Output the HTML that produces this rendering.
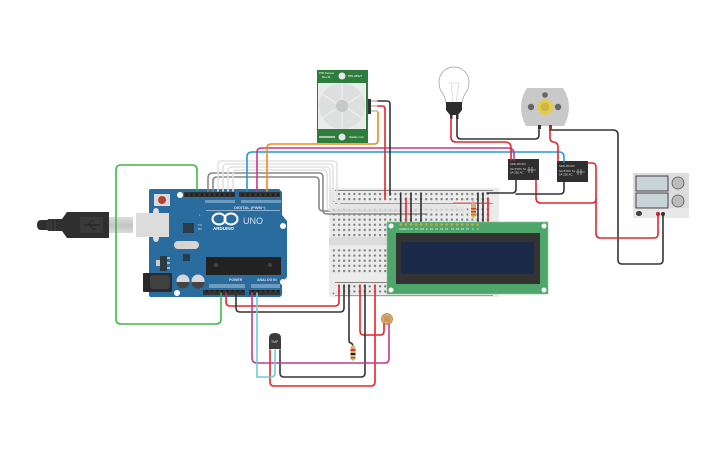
<!DOCTYPE html>
<html>
<head>
<meta charset="utf-8">
<style>
html,body{margin:0;padding:0;background:#fff;width:725px;height:453px;overflow:hidden}
svg{display:block}
text{font-family:"Liberation Sans",sans-serif}
.w{fill:none;stroke-width:1.6;stroke-linecap:round}
.k{stroke:#333}.r{stroke:#e0262b}.g{stroke:#43b649}.o{stroke:#ee8a1c}.m{stroke:#c4398e}.b{stroke:#1f9ad6}.c{stroke:#6ccbdb}.gy{stroke:#888}.wh{stroke:#e2e2e2}
</style>
</head>
<body>
<svg width="725" height="453" viewBox="0 0 725 453" xmlns="http://www.w3.org/2000/svg">
<defs>
<pattern id="h" x="336.500" y="191.500" width="5.13" height="5.13" patternUnits="userSpaceOnUse"><rect x="1.500" y="1.500" width="2" height="2" fill="#777"/></pattern>
<pattern id="pins" x="184" y="192" width="5.1" height="6" patternUnits="userSpaceOnUse"><rect width="5.1" height="6" fill="#333"/><rect x="1.5" y="1.5" width="2" height="2.5" fill="#1c1c1c"/></pattern>
<linearGradient id="cable" x1="0" y1="0" x2="0" y2="1"><stop offset="0" stop-color="#dcdcdc"/><stop offset=".5" stop-color="#c4c4c4"/><stop offset="1" stop-color="#dcdcdc"/></linearGradient>
</defs>

<!-- USB cable -->
<rect x="109" y="217" width="24" height="16" fill="url(#cable)"/>
<path d="M48 220 H41 Q37 220 37 225 Q37 230 41 230 H48 V219 H62 L67 212 H109 V238 H67 L62 231 H48Z" fill="#2f2f2f"/>
<path d="M48 219 V231 M51 219 V231 M55 219 V231" stroke="#555" stroke-width=".6"/>
<rect x="80" y="217" width="23" height="16" fill="#3a3a3a"/>
<path d="M84 225 H100 M88 225 L91 221 H94 M90 225 L93 229 H96" stroke="#222" stroke-width="1" fill="none"/>

<!-- Arduino -->
<path d="M149 191 Q149 189 151 189 H279 L282 192 V215 L287 221 V277 L282 283 V295 L280 297 H151 Q149 297 149 295Z" fill="#2b6c9e"/>
<ellipse cx="156" cy="212" rx="3" ry="4" fill="#ddd"/>
<ellipse cx="156" cy="238" rx="3" ry="4" fill="#ddd"/>
<rect x="136" y="213" width="33" height="24" fill="#dcdcdc"/>
<rect x="184" y="192" width="51" height="5" fill="url(#pins)"/>
<rect x="239" y="192" width="41" height="5" fill="url(#pins)"/>
<rect x="203" y="290" width="42" height="5" fill="url(#pins)"/>
<rect x="249" y="290" width="31" height="5" fill="url(#pins)"/>
<rect x="154" y="194" width="16" height="12" fill="#d9d9d9"/>
<circle cx="162" cy="200" r="4" fill="#b5442c"/>
<circle cx="180" cy="195" r="3" fill="#fff"/>
<circle cx="283" cy="226" r="3" fill="#fff"/>
<circle cx="283" cy="282" r="3" fill="#fff"/>
<circle cx="177" cy="293" r="3" fill="#fff"/>
<rect x="183" y="223" width="11" height="10" fill="#2b3b48"/>
<rect x="174" y="241" width="25" height="8" rx="4" fill="#d9d4d0"/>
<rect x="183" y="254" width="7" height="7" fill="#2b3b48"/>
<rect x="156" y="260" width="4" height="6" fill="#ccc"/>
<rect x="160" y="256" width="7" height="15" fill="#2c3a44"/>
<path d="M167 258 H170 M167 263 H170 M167 268 H170" stroke="#ccc" stroke-width="1.500"/>
<rect x="143" y="273" width="29" height="19" rx="1" fill="#2a2a2a"/>
<rect x="150" y="275" width="20" height="14" rx="3" fill="#404040"/>
<circle cx="183" cy="281" r="6.5" fill="#d4d8da"/>
<path d="M176.5 282 a6.500 6.500 0 0 0 13 0z" fill="#444"/>
<circle cx="198" cy="281" r="6.5" fill="#d4d8da"/>
<path d="M191.500 282 a6.500 6.500 0 0 0 13 0z" fill="#444"/>
<rect x="206" y="257" width="75" height="18" fill="#222"/>
<circle cx="216" cy="265" r="2" fill="#444"/>
<circle cx="270" cy="265" r="2" fill="#444"/>
<rect x="206" y="210" width="74" height="0.7" fill="#bcd"/>
<ellipse cx="219" cy="219" rx="6.500" ry="5.500" fill="none" stroke="#fff" stroke-width="2"/>
<ellipse cx="231" cy="219" rx="6.500" ry="5.500" fill="none" stroke="#fff" stroke-width="2"/>
<text x="213" y="230" font-size="4.500" font-weight="bold" fill="#fff">ARDUINO</text>
<text x="243" y="224" font-size="9" fill="#cfe0ec">UNO</text>
<text x="234" y="209" font-size="4" font-weight="bold" fill="#dde">DIGITAL (PWM~)</text>
<text x="229" y="281" font-size="3.500" font-weight="bold" fill="#dde">POWER</text>
<text x="257" y="281" font-size="3.500" font-weight="bold" fill="#dde">ANALOG IN</text>
<text x="199" y="216" font-size="3" fill="#dde">L</text>
<text x="198" y="226" font-size="3" fill="#dde">TX</text>
<text x="198" y="230" font-size="3" fill="#dde">RX</text>
<rect x="205" y="200" width="30" height="3" fill="#a8c4d9" opacity=".55"/>
<rect x="241" y="200" width="40" height="3" fill="#a8c4d9" opacity=".55"/>
<rect x="209" y="284" width="36" height="4" fill="#a8c4d9" opacity=".55"/>
<rect x="251" y="284" width="29" height="4" fill="#a8c4d9" opacity=".55"/>

<!-- Breadboard -->
<rect x="329" y="188" width="170" height="109" fill="#ebebeb"/>
<rect x="329" y="237" width="170" height="8" fill="#dcdcdc"/>
<rect x="336.500" y="191.500" width="155" height="10.200" fill="url(#h)"/>
<rect x="331.400" y="207" width="160" height="30" fill="url(#h)"/>
<rect x="331.400" y="248" width="160" height="26" fill="url(#h)"/>
<rect x="336.500" y="284" width="155" height="10.200" fill="url(#h)"/>
<rect x="335" y="190" width="158" height="0.8" fill="#666"/>
<rect x="335" y="203" width="158" height="0.8" fill="#d66"/>
<rect x="335" y="282" width="158" height="0.8" fill="#666"/>
<rect x="335" y="295" width="158" height="0.8" fill="#d66"/>
<text x="332" y="203" font-size="5" fill="#c33">+</text>
<text x="332" y="295" font-size="5" fill="#c33">+</text>

<!-- Grey and white wires -->
<g class="w gy">
<path d="M208 191 V178 Q208 173 213 173 H319 Q323 173 323 177 V210 Q323 214 327 214 H427"/>
<path d="M213 191 V181 Q213 177 217 177 H315 Q319 177 319 181 V207 Q319 211 323 211 H417"/>
</g>
<g class="w wh">
<path d="M218 191 V165 Q218 161 222 161 H333 Q337 161 337 165 V198 Q337 205 343 205 H450 Q456 205 460 209 V214"/>
<path d="M223 191 V168 Q223 164 227 164 H329 Q333 164 333 168 V202 Q333 207 339 207 H463 V214"/>
<path d="M228 191 V171 Q228 167 232 167 H326 Q330 167 330 171 V204 Q330 209 336 209 H466 V216"/>
<path d="M233 191 V174 Q233 170 237 170 H323 Q327 170 327 174 V206 Q327 211 333 211 H469 V216"/>
</g>

<!-- PIR -->
<rect x="317" y="70" width="51" height="73" fill="#2f7d3c"/>
<rect x="318" y="83" width="48" height="46" fill="#e8ecea"/>
<circle cx="342" cy="106" r="23" fill="#dde0de"/>
<circle cx="342" cy="106" r="6" fill="#c6c9c7"/>
<path d="M342 83 V100 M322 94 L336 103 M322 118 L336 109 M342 129 V112 M362 94 L348 103 M362 118 L348 109" stroke="#f1f2f1" stroke-width="1"/>
<circle cx="342" cy="76" r="3.500" fill="#e6e6e6"/>
<circle cx="342" cy="137" r="3.500" fill="#e6e6e6"/>
<text x="319" y="74" font-size="3" fill="#fff">PIR Sensor</text>
<text x="322" y="78" font-size="3" fill="#fff">Rev B</text>
<text x="348" y="77" font-size="3" fill="#fff">555-28027</text>
<text x="349" y="138" font-size="3" fill="#fff">dtallax.com</text>
<rect x="319" y="136" width="16" height="2" fill="#d8e4d8" opacity=".7"/>
<rect x="368" y="99" width="3" height="15" fill="#333"/>
<path d="M371 101 H378 M371 106 H378 M371 111 H378" stroke="#bbb" stroke-width="1.500"/>

<!-- Bulb -->
<path d="M446 103 Q445 96 441 91 Q439 87 439 82 A15 15 0 0 1 469 82 Q469 87 467 91 Q463 96 462 103Z" fill="#fff" stroke="#999" stroke-width=".7"/>
<path d="M448 83 H459 L456 102 M451 84 L453 102" stroke="#ccc" stroke-width=".6" fill="none"/>
<path d="M446 102 H462 V110 L458 115 H450 L446 110Z" fill="#2d2d2d"/>
<rect x="450" y="115" width="2.500" height="4" fill="#333"/>
<rect x="456" y="115" width="2.500" height="4" fill="#333"/>

<!-- Motor -->
<path d="M527 88 H563 Q569 97 569 107 Q569 117 564 126 H526 Q521 117 521 107 Q521 97 527 88Z" fill="#c9c9c9"/>
<circle cx="545" cy="95" r="2.800" fill="#666"/>
<circle cx="531" cy="107" r="3.200" fill="#666"/>
<circle cx="558" cy="107" r="3.200" fill="#666"/>
<circle cx="545" cy="107" r="5.500" fill="#c9b64e" stroke="#ecc93c" stroke-width="2.500"/>
<circle cx="545" cy="107" r="7.500" fill="none" stroke="#ecc93c" stroke-width="1.600" stroke-dasharray="2 2"/>
<rect x="538" y="125" width="3" height="4" fill="#333"/>
<rect x="549" y="125" width="3" height="4" fill="#b22"/>

<!-- Relays -->
<rect x="508" y="159" width="31" height="21" fill="#2f2f2f"/>
<rect x="557" y="161" width="31" height="21" fill="#2f2f2f"/>
<g fill="#ddd" font-size="2.800">
<text x="510" y="165">SRD-05VDC</text><text x="510" y="170">SA-5VDC SL</text><text x="510" y="173.500">5A-250 AC</text>
<text x="559" y="167">SRD-05VDC</text><text x="559" y="172">SA-5VDC SL</text><text x="559" y="175.500">5A-250 AC</text>
</g>
<path d="M527 170 H536 M529 167 V173 M532 167 V173" stroke="#ddd" stroke-width=".6"/>
<path d="M576 172 H585 M578 169 V175 M581 169 V175" stroke="#ddd" stroke-width=".6"/>

<!-- Power supply -->
<rect x="633" y="173" width="56" height="45" fill="#dcdcdc"/>
<rect x="633" y="208" width="56" height="10" fill="#e8e8e8"/>
<rect x="636" y="176" width="32" height="15" fill="#c9d4d8" stroke="#444" stroke-width="1"/>
<rect x="636" y="193" width="32" height="15" fill="#c9d4d8" stroke="#444" stroke-width="1"/>
<circle cx="678" cy="183" r="6" fill="#bbb" stroke="#555" stroke-width=".8"/>
<circle cx="678" cy="201" r="6" fill="#bbb" stroke="#555" stroke-width=".8"/>
<rect x="636" y="211" width="6" height="5" rx="2.500" fill="#444"/>
<circle cx="658" cy="214" r="2" fill="#b22"/>
<circle cx="663" cy="214" r="2" fill="#333"/>

<!-- Temperature sensor -->
<path d="M269 338 Q269 333 275 333 Q281 333 281 338 V349 H269Z" fill="#3a3a3a"/>
<text x="271" y="343" font-size="3.500" fill="#ddd">TMP</text>

<!-- LDR -->
<circle cx="387" cy="319" r="5.500" fill="#d9a86a" stroke="#b98546" stroke-width=".8"/>
<path d="M384 317 H390 M384 319 H390 M384 321 H390" stroke="#a0662e" stroke-width=".5"/>

<!-- Wires -->
<path class="w g" d="M197 190 V170 Q197 165 192 165 H121 Q116 165 116 170 V319 Q116 324 121 324 H216 Q221 324 221 319 V293"/>
<path class="w b" d="M247 191 V157 Q247 152 252 152 H559 Q564 152 564 157 V162"/>
<path class="w m" d="M257 191 V152 Q257 148 262 148 H508 Q514 148 514 154 V160"/>
<path class="w o" d="M267 191 V148 Q267 144 271 144 H374 Q378 144 378 140 V112"/>
<path class="w k" d="M378 101 H387 Q390 101 390 104 V195"/>
<path class="w r" d="M378 106 H382 Q385 106 385 109 V198"/>
<path class="w r" d="M451 118 V137 Q451 142 456 142 H505 Q511 142 511 148 V160"/>
<path class="w k" d="M457 118 V135 Q457 139 461 139 H535 Q539 139 539 135 V128"/>
<path class="w r" d="M550 128 V138 Q550 142 554 142 Q558 143 558 147 V161"/>
<path class="w k" d="M550 130 H613 Q618 130 618 135 V260 Q618 264 622 264 H659 Q663 264 663 260 V214"/>
<path class="w r" d="M588 163 H592 Q596 163 596 167 V233 Q596 238 600 238 H654 Q658 238 658 234 V214"/>
<path class="w r" d="M536 180 V198 Q536 203 541 203 H592 Q596 203 596 199"/>
<path class="w k" d="M516 180 V189 Q516 193 512 193 H487"/>
<path class="w k" d="M564 182 V190 Q564 194 560 194 H516"/>
<path class="w k" d="M400.700 193 V224 M411 193 V224 M421 193 V224 M478 193 V224 M483 193 V224"/>
<path class="w r" d="M406 198 V224 M488 198 V224"/>
<path d="M453 203 H490" stroke="#d33" stroke-width=".8"/>
<!-- resistor 1 -->
<path d="M473 199 V221" stroke="#aaa" stroke-width="1"/>
<rect x="471" y="203" width="5" height="14" rx="2" fill="#d8b070"/>
<rect x="471" y="208" width="5" height="1.500" fill="#d33"/>
<rect x="471" y="211" width="5" height="1.500" fill="#d33"/>
<rect x="471" y="214" width="5" height="1.500" fill="#c80"/>

<!-- Bottom wires -->
<path class="w r" d="M226 293 V302 Q226 306 230 306 H335 Q339 306 339 302 V285"/>
<path class="w k" d="M236 293 V308 Q236 312 240 312 H340 Q344 312 344 308 V285"/>
<path class="w k" d="M349 285 V340 Q349 343 351 343 Q353 344 353 347"/>
<path class="w r" d="M360 285 V331 Q360 335 364 335 H380 Q384 335 384 331 V324"/>
<path class="w k" d="M365 285 V373 Q365 377 361 377 H284 Q280 377 280 373 V350"/>
<path class="w r" d="M375 285 V382 Q375 386 371 386 H274 Q270 386 270 382 V350"/>
<path class="w m" d="M252 293 V358 Q252 363 257 363 H385 Q389 363 389 358 V324"/>
<path class="w c" d="M257 293 V377 H271 Q275 377 275 373 V350"/>
<path d="M353 345 V363" stroke="#bbb" stroke-width="1"/>
<rect x="350.500" y="346" width="5" height="14" rx="2" fill="#d8b070"/>
<rect x="350.500" y="349" width="5" height="2" fill="#d33"/>
<rect x="350.500" y="353" width="5" height="2" fill="#222"/>
<rect x="350.500" y="357" width="5" height="1.500" fill="#a60"/>

<!-- LCD -->
<rect x="387" y="222" width="161" height="72" fill="#4fa66b" stroke="#8cc49d" stroke-width=".6"/>
<rect x="396" y="233" width="144" height="51" fill="#333"/>
<rect x="401" y="242" width="133" height="32" fill="#1b2a49"/>
<circle cx="391" cy="226" r="2.500" fill="#fff"/>
<circle cx="544" cy="226" r="2.500" fill="#fff"/>
<circle cx="391" cy="290" r="2.500" fill="#fff"/>
<circle cx="544" cy="290" r="2.500" fill="#fff"/>
<g fill="#c9a44a">
<circle cx="400.700" cy="224.500" r="1.400"/><circle cx="405.800" cy="224.500" r="1.400"/><circle cx="411" cy="224.500" r="1.400"/><circle cx="416.100" cy="224.500" r="1.400"/><circle cx="421.200" cy="224.500" r="1.400"/><circle cx="426.300" cy="224.500" r="1.400"/><circle cx="431.500" cy="224.500" r="1.400"/><circle cx="436.600" cy="224.500" r="1.400"/><circle cx="441.700" cy="224.500" r="1.400"/><circle cx="446.800" cy="224.500" r="1.400"/><circle cx="452" cy="224.500" r="1.400"/><circle cx="457.100" cy="224.500" r="1.400"/><circle cx="462.200" cy="224.500" r="1.400"/><circle cx="467.300" cy="224.500" r="1.400"/><circle cx="472.500" cy="224.500" r="1.400"/><circle cx="477.600" cy="224.500" r="1.400"/>
</g>
<g fill="#e8f2ea" font-size="2.500">
<text x="399" y="230">GND</text><text x="404" y="230">VCC</text><text x="410" y="230">V0</text><text x="415" y="230">RS</text><text x="420" y="230">RW</text><text x="426" y="230">E</text><text x="430" y="230">D0</text><text x="435" y="230">D1</text><text x="440" y="230">D2</text><text x="445" y="230">D3</text><text x="451" y="230">D4</text><text x="456" y="230">D5</text><text x="461" y="230">D6</text><text x="466" y="230">D7</text><text x="472" y="230">A</text><text x="477" y="230">K</text>
</g>
</svg>
</body>
</html>
